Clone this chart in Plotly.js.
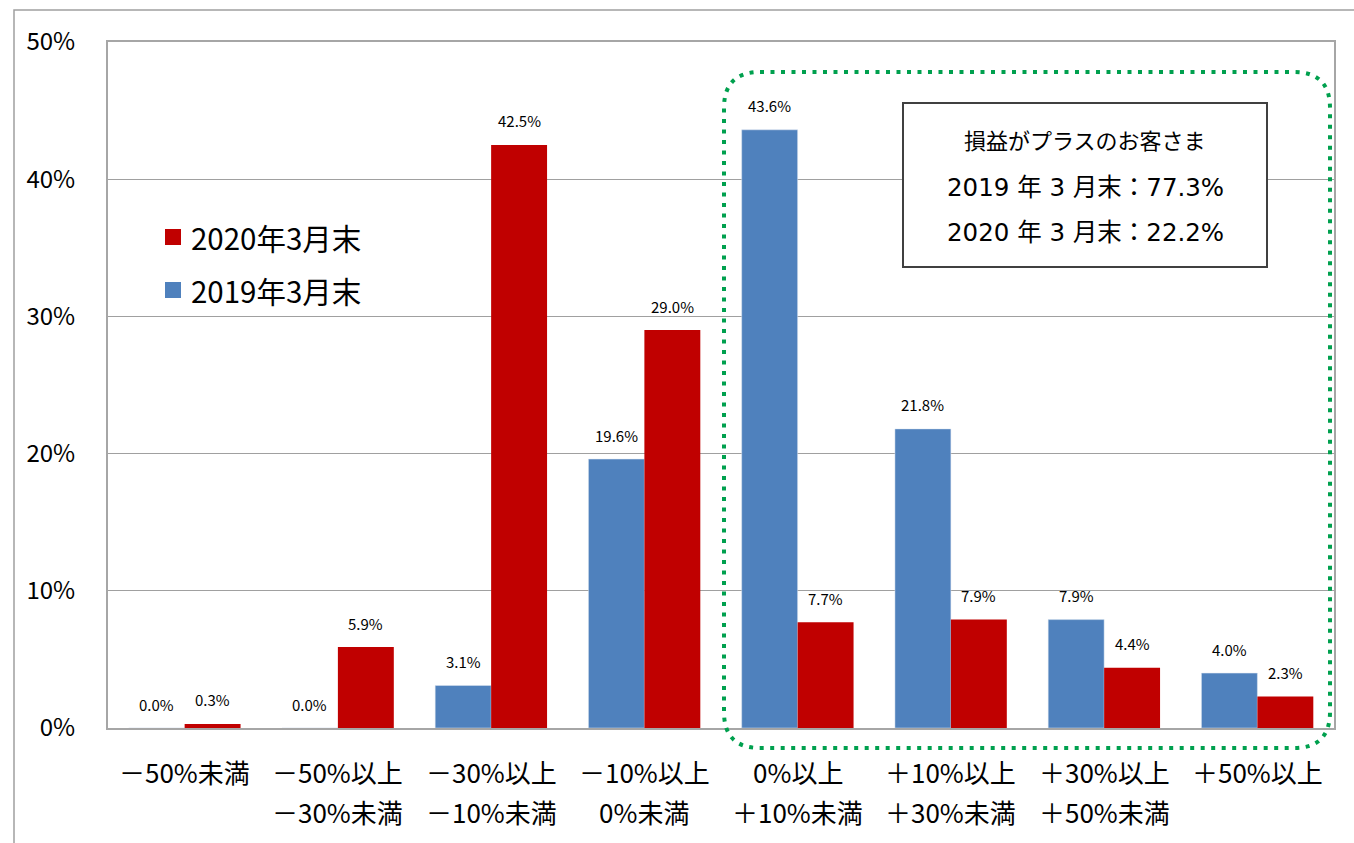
<!DOCTYPE html>
<html>
<head>
<meta charset="utf-8">
<script src="https://cdn.plot.ly/plotly-3.0.1.min.js"></script>
<style>html,body{margin:0;padding:0;background:#fff;}#chart{width:1354px;height:843px;}</style>
</head>
<body>
<div id="chart"></div>
<script>
// ---- data ----
const categories = ['－50%未満', '－50%以上－30%未満', '－30%以上－10%未満', '－10%以上0%未満', '0%以上＋10%未満', '＋10%以上＋30%未満', '＋30%以上＋50%未満', '＋50%以上'];
const labelLine1 = ['－50%未満', '－50%以上', '－30%以上', '－10%以上', '0%以上', '＋10%以上', '＋30%以上', '＋50%以上'];
const labelLine2 = ['', '－30%未満', '－10%未満', '0%未満', '＋10%未満', '＋30%未満', '＋50%未満', ''];
const values2019 = [0.0, 0.0, 3.1, 19.6, 43.6, 21.8, 7.9, 4.0];
const values2020 = [0.3, 5.9, 42.5, 29.0, 7.7, 7.9, 4.4, 2.3];
const seriesNames = ['2019年3月末', '2020年3月末'];
const yTicks = [0, 10, 20, 30, 40, 50];
const boxLines = ['損益がプラスのお客さま', '2019 年 3 月末：77.3%', '2020 年 3 月末：22.2%'];

// ---- layout geometry (pixels) ----
const FIG_W = 1354, FIG_H = 843;
const L = 108, R = 1334, T = 42, B = 728;
const W = R - L, H = B - T;
const px2x = p => (p - L) / W;
const px2y = p => (B - p) / H;
const FONT = 'Noto Sans CJK JP, Noto Sans, sans-serif';
const FONT_WIDE = 'DejaVu Sans, Noto Sans CJK JP, sans-serif';
const BLUE = '#4F81BD', RED = '#C00000';
const BARGAP = 0.27;
const halfBarPx = (W / categories.length) * (1 - BARGAP) / 4;

const traces = [
  {type: 'bar', name: seriesNames[0], x: categories, y: values2019, marker: {color: BLUE, line: {color: '#dfe6f0', width: 0.5}}, hoverinfo: 'x+y'},
  {type: 'bar', name: seriesNames[1], x: categories, y: values2020, marker: {color: RED}, hoverinfo: 'x+y'}
];

const annotations = [];
// data labels
[values2019, values2020].forEach((vals, i) => {
  vals.forEach((v, j) => {
    annotations.push({
      xref: 'x', yref: 'y', x: categories[j], y: v,
      text: v.toFixed(1) + '%', showarrow: false,
      xshift: (i === 0 ? -1 : 1) * halfBarPx, yshift: 24, yanchor: 'middle', xanchor: 'center',
      font: {family: FONT, size: 15, color: '#000'}
    });
  });
});
// category labels (two lines)
categories.forEach((c, j) => {
  annotations.push({xref: 'x', yref: 'paper', x: c, y: 0, yshift: -43, yanchor: 'middle', xanchor: 'center',
    text: labelLine1[j], showarrow: false, font: {family: FONT, size: 26, color: '#000'}});
  if (labelLine2[j]) annotations.push({xref: 'x', yref: 'paper', x: c, y: 0, yshift: -83, yanchor: 'middle', xanchor: 'center',
    text: labelLine2[j], showarrow: false, font: {family: FONT, size: 26, color: '#000'}});
});
// legend texts
const legendItems = [{name: seriesNames[1], color: RED, cy: 237}, {name: seriesNames[0], color: BLUE, cy: 290}];
legendItems.forEach(it => {
  annotations.push({xref: 'paper', yref: 'paper', x: px2x(189), y: px2y(it.cy), xanchor: 'left', yanchor: 'middle',
    text: it.name, showarrow: false, font: {family: FONT, size: 29.5, color: '#000'}});
});
// box texts
const boxCenters = [139, 187, 232];
boxLines.forEach((t, k) => {
  annotations.push({xref: 'paper', yref: 'paper', x: px2x(1085), y: px2y(boxCenters[k]), xanchor: 'center', yanchor: 'middle',
    text: t, showarrow: false, font: k === 0 ? {family: FONT, size: 22, color: '#000'} : {family: FONT_WIDE, size: 24.5, color: '#000'}});
});

const shapes = [];
// outer chart border
shapes.push({type: 'rect', xref: 'paper', yref: 'paper', x0: px2x(14), x1: px2x(1400), y0: px2y(900), y1: px2y(10),
  line: {color: '#A0A0A0', width: 1.5}, fillcolor: 'rgba(0,0,0,0)', layer: 'below'});
// legend squares
legendItems.forEach(it => {
  shapes.push({type: 'rect', xref: 'paper', yref: 'paper', x0: px2x(165), x1: px2x(181), y0: px2y(it.cy + 8), y1: px2y(it.cy - 8),
    line: {width: 0}, fillcolor: it.color});
});
// text box
shapes.push({type: 'rect', xref: 'paper', yref: 'paper', x0: px2x(903), x1: px2x(1267), y0: px2y(267), y1: px2y(103),
  line: {color: '#404040', width: 2}, fillcolor: '#FFFFFF'});
// green dotted rounded rectangle
(function () {
  const x1 = 724, x2 = 1330, y1 = 72, y2 = 748, r = 36;
  const P = (x, y) => px2x(x).toFixed(5) + ',' + px2y(y).toFixed(5);
  const path = 'M' + P(x1 + r, y1) + ' L' + P(x2 - r, y1) + ' Q' + P(x2, y1) + ' ' + P(x2, y1 + r) +
    ' L' + P(x2, y2 - r) + ' Q' + P(x2, y2) + ' ' + P(x2 - r, y2) +
    ' L' + P(x1 + r, y2) + ' Q' + P(x1, y2) + ' ' + P(x1, y2 - r) +
    ' L' + P(x1, y1 + r) + ' Q' + P(x1, y1) + ' ' + P(x1 + r, y1) + ' Z';
  shapes.push({type: 'path', xref: 'paper', yref: 'paper', path: path,
    line: {color: '#00A04E', width: 4, dash: '4px,6.5px'}, fillcolor: 'rgba(0,0,0,0)'});
})();

const layout = {
  width: FIG_W, height: FIG_H,
  margin: {l: L, r: FIG_W - R, t: T, b: FIG_H - B, pad: 0},
  paper_bgcolor: '#FFFFFF', plot_bgcolor: '#FFFFFF',
  showlegend: false,
  barmode: 'group', bargap: BARGAP, bargroupgap: 0,
  font: {family: FONT, color: '#000'},
  xaxis: {type: 'category', showticklabels: false, ticks: '', showgrid: false,
    showline: true, mirror: true, linecolor: '#A6A6A6', linewidth: 2, zeroline: false},
  yaxis: {range: [0, 50], tickvals: yTicks, ticktext: yTicks.map(v => v + '%'), showgrid: true, gridcolor: '#A0A0A0', gridwidth: 1,
    showline: true, mirror: true, linecolor: '#A6A6A6', linewidth: 2, zeroline: false, ticks: '',
    tickfont: {family: FONT, size: 24, color: '#000'}, ticklabelstandoff: 26},
  annotations: annotations,
  shapes: shapes
};

Plotly.newPlot('chart', traces, layout, {displayModeBar: false, staticPlot: true});
</script>
</body>
</html>
